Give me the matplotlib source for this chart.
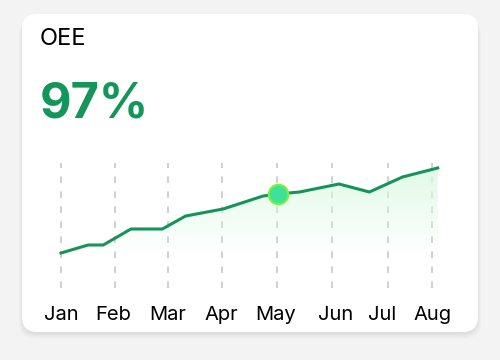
import matplotlib
matplotlib.use("Agg")
import matplotlib.pyplot as plt
import numpy as np
from matplotlib.patches import FancyBboxPatch, Polygon

title = "OEE"
kpi = "97%"
months = ["Jan", "Feb", "Mar", "Apr", "May", "Jun", "Jul", "Aug"]
month_pos = [0, 0.99, 1.97, 2.97, 3.99, 5.0, 6.03, 6.84]
label_pos = [0, 0.96, 1.96, 2.95, 3.96, 5.07, 5.92, 6.85]
x_vals = [0, 0.5, 0.78, 1.29, 1.87, 2.3, 2.99, 3.73, 4.0, 4.4, 5.13, 5.69, 6.3, 6.95]
y_vals = [83.5, 84.3, 84.3, 85.9, 85.9, 87.2, 87.9, 89.2, 89.4, 89.6, 90.4, 89.6, 91.1, 92.0]
highlight_x = 4.0
highlight_y = 89.4

W, H = 500, 360
fig = plt.figure(figsize=(5, 3.6), dpi=100)
fig.patch.set_facecolor("#f3f3f3")

bg = fig.add_axes([0, 0, 1, 1])
bg.set_xlim(0, W); bg.set_ylim(H, 0); bg.axis("off")
# shadow
for i, a in enumerate([0.025, 0.025, 0.02, 0.02]):
    sh = FancyBboxPatch((22 - i, 16 + i * 1.5), 456 + 2 * i, 318, boxstyle="round,pad=0,rounding_size=16",
                        fc="black", ec="none", alpha=a)
    bg.add_patch(sh)
card = FancyBboxPatch((22, 14), 456, 318, boxstyle="round,pad=0,rounding_size=15",
                      fc="white", ec="none")
bg.add_patch(card)
bg.text(40, 39, title, fontsize=17, color="black", va="center", ha="left", family="Inter")
bg.text(40, 105, kpi, fontsize=35, color="#14965a", fontweight="bold", va="center", ha="left", family="Inter")

# chart axes: x pixel 61 -> 0 ; 54.2 px per month ; y pixel 288 -> 80, 0.1 per px
x0px, pxm = 61, 54.2
left_px, right_px = 40, 460
top_px, bot_px = 150, 300
ax = fig.add_axes([left_px / W, 1 - bot_px / H, (right_px - left_px) / W, (bot_px - top_px) / H])
ax.set_xlim((left_px - x0px) / pxm, (right_px - x0px) / pxm)
ax.set_ylim(80 - (bot_px - 288) * 0.1, 80 + (288 - top_px) * 0.1)
ax.axis("off")

for p in month_pos:
    ax.plot([p, p], [80, 92.5], color="#c8c8c8", lw=1.2, ls=(0, (4, 5)), zorder=1)

# gradient fill
xs = np.array(x_vals); ys = np.array(y_vals)
poly_pts = np.vstack([np.column_stack([xs, ys]), [[xs[-1], 83.5], [xs[0], 83.5]]])
grad = np.linspace(0, 1, 256).reshape(-1, 1)
cols = np.zeros((256, 1, 4))
cols[..., 0] = 0.86; cols[..., 1] = 0.98; cols[..., 2] = 0.89
cols[..., 3] = grad * 0.85
im = ax.imshow(cols, extent=[xs[0], xs[-1], 83.5, ys.max()], origin="lower", aspect="auto", zorder=2)
clip = Polygon(poly_pts, closed=True, transform=ax.transData, fc="none", ec="none")
ax.add_patch(clip)
im.set_clip_path(clip)

ax.plot(xs, ys, color="#16935a", lw=2.2, zorder=3, solid_joinstyle="round")
ax.plot([highlight_x], [highlight_y], "o", ms=14, mfc="#3ee09a", mec="#7af23a", mew=1.5, zorder=4)

for p, m in zip(label_pos, months):
    ax.text(p, 80 - (315 - 288) * 0.1, m, fontsize=14.5, ha="center", va="center", color="black", family="Inter")

fig.savefig("out.png", dpi=100, facecolor=fig.get_facecolor())
